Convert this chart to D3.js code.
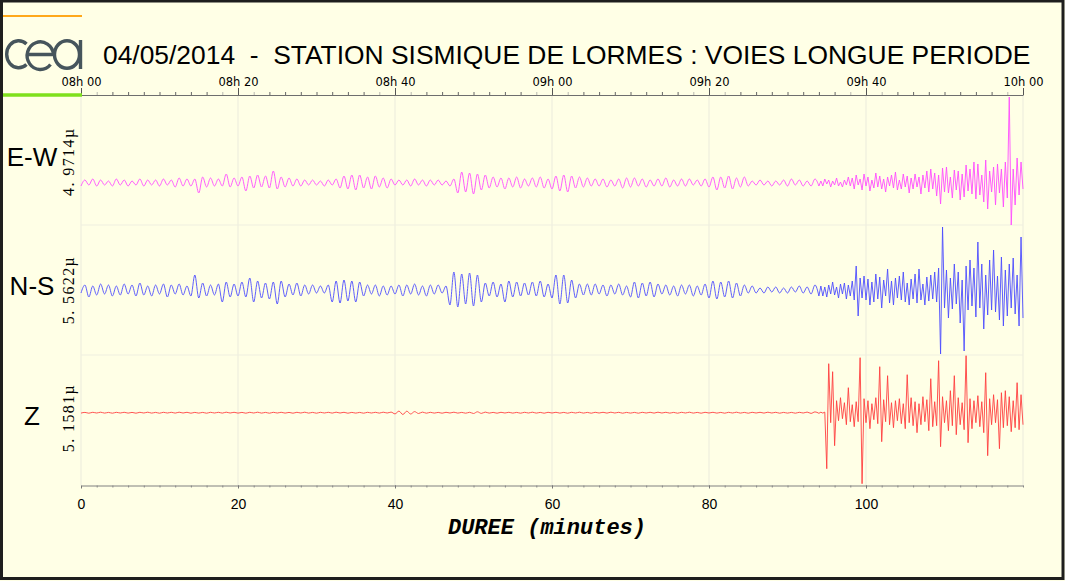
<!DOCTYPE html>
<html><head><meta charset="utf-8">
<script src="https://cdn.jsdelivr.net/npm/d3@7"></script>
<style>body{margin:0;background:#ffffe6;overflow:hidden}</style>
</head><body>
<svg id="chart" width="1065" height="581"></svg>
<script>
// ---------- DATA ----------
const titleText = "04/05/2014  -  STATION SISMIQUE DE LORMES : VOIES LONGUE PERIODE";
const channels = ["E-W", "N-S", "Z"];
const ampLabels = ["4. 9714\u00b5", "5. 5622\u00b5", "5. 1581\u00b5"];
const topTickLabels = ["08h 00", "08h 20", "08h 40", "09h 00", "09h 20", "09h 40", "10h 00"];
const topTickMinutes = [0, 20, 40, 60, 80, 100, 120];
const bottomTickMinutes = [0, 20, 40, 60, 80, 100];
const xLabel = "DUREE (minutes)";
const durationMin = 120;
const quietStep = 0.5;   // minutes between samples, 0..94 min
const tailStart = 94;
const tailStep = 0.25;   // minutes between samples, 94..120 min

// E-W trace (amplitude, arbitrary display units)
const ewQuiet = [
 -3,3,-2,4,-3,3,-2,2,-3,4, -2,3,-3,2,-2,4,-3,3,-2,3,
 -3,4,-2,3,-4,5,-3,4,-3,4, -10,6,-4,5,-3,4,-3,9,-4,5,
 -3,6,-8,7,-5,8,-4,7,-5,12, -6,6,-4,5,-3,4,-3,3,-2,3,
 -2,2,-3,3,-2,4,-5,7,-6,8, -7,8,-5,6,-6,7,-4,5,-5,4,
 -2,3,-2,3,-3,4,-2,3,-3,3, -2,3,-2,2,-3,4,-10,11,-9,10,
 -11,9,-7,8,-5,6,-4,5,-6,5, -4,6,-5,4,-3,5,-4,6,-5,4,
 -6,7,-8,8,-9,7,-5,6,-4,5, -3,4,-3,4,-4,3,-3,4,-5,5,
 -4,5,-3,4,-4,3,-3,4,-3,5, -4,3,-3,4,-3,4,-2,3,-3,4,
 -4,6,-7,6,-5,7,-6,5,-4,6, -3,2,-2,3,-2,2,-3,2,-2,3,
 -3,4,-2,3,-3,2,-3,4,-3
];
const ewTail = [
 2,-3,4,-1,3,-4,2,-2,5,-3,1,-4,3,-2,6,-3,
 5,-6,8,-2,4,-7,9,-3,6,-8,3,-5,10,-4,7,-6,
 4,-9,6,-3,8,-5,11,-7,3,-6,9,-4,7,-10,5,-6,
 9,-4,6,-11,8,-5,12,-9,14,-6,10,-13,
 8,-21,15,-9,
 16,-10,6,-15,13,-7,12,-17,9,-14,18,-8,14,-11,21,-16,
 19,-12,8,-19,23,-26,12,-9,
 16,-22,19,-10,14,-24,21,-15,86,-42,
 14,-22,25,-12,21,-6
];

// N-S trace
const nsQuiet = [
 -3,5,-7,4,-5,6,-4,5,-6,4, -5,6,-4,5,-6,7,-5,4,-6,5,
 -4,6,-7,5,-4,6,-5,4,-6,15, -8,7,-6,5,-5,6,-12,8,-7,6,
 -6,8,-7,12,-12,9,-8,7,-9,8, -14,9,-7,6,-5,7,-6,5,-4,5,
 -3,4,-3,5,-12,9,-13,10,-11,9, -12,8,-6,5,-4,5,-6,4,-5,4,
 -4,5,-6,5,-4,6,-5,4,-6,5, -4,5,-3,4,-15,18,-17,16,-14,17,
 -16,15,-12,7,-6,8,-7,6,-12,9, -7,8,-6,7,-5,8,-6,9,-7,6,
 -8,15,-14,15,-13,10,-8,6,-5,6, -5,6,-4,5,-6,5,-4,6,-5,4,
 -7,8,-8,7,-6,8,-7,6,-4,5, -5,4,-6,5,-4,5,-6,4,-5,6,
 -8,9,-9,8,-7,9,-8,7,-6,5, -3,4,-3,2,-3,3,-2,3,-3,2,
 -3,3,-2,4,-3,3,-4,5,-6
];
const nsTail = [
 4,-6,3,-7,5,-4,8,-5,3,-8,6,-4,7,-9,5,-6,
 9,-10,24,-26,12,-8,14,-10,
 11,-15,8,-12,16,-9,13,-18,10,-6,21,-13,9,-15,12,-8,
 14,-10,18,-12,7,-15,11,-9,16,-13,21,-10,6,-15,13,-11,
 15,-9,18,-12,22,-64,63,-18,
 20,-28,12,-19,26,-14,18,-33,10,-61,24,-20,30,-16,22,-27,
 48,-18,26,-39,15,-25,30,-20,
 40,-22,14,-30,33,-36,20,-26,
 26,-18,32,-24,15,-36,53,-28
];

// Z trace
const zQuiet = [
 -0.4,0.3,-0.5,0.4,-0.3,0.5,-0.4,0.3,-0.5,0.4, -0.3,0.4,-0.4,0.3,-0.5,0.4,-0.3,0.5,-0.4,0.3,
 -0.5,0.4,-0.3,0.4,-0.4,0.5,-0.3,0.4,-0.5,0.3, -0.4,0.3,-0.5,0.4,-0.3,0.4,-0.4,0.5,-0.3,0.4,
 -0.4,0.3,-0.5,0.4,-0.3,0.5,-0.4,0.3,-0.5,0.4, -0.3,0.4,-0.4,0.3,-0.5,0.4,-0.3,0.5,-0.4,0.3,
 -0.5,0.4,-0.3,0.4,-0.4,0.5,-0.3,0.4,-0.5,0.3, -0.4,0.3,-0.5,0.4,-0.3,0.4,-0.4,0.5,-0.3,0.6,
 -1.2,1.6,-1.8,1.5,-1.3,1.1,-0.8,0.6,-0.5,0.4, -0.4,0.3,-0.5,0.4,-0.3,0.5,-0.4,0.3,-0.5,0.4,
 -0.8,0.9,-0.7,0.6,-0.4,0.3,-0.5,0.4,-0.3,0.4, -0.4,0.3,-0.5,0.4,-0.3,0.5,-0.4,0.3,-0.5,0.4,
 -0.3,0.4,-0.4,0.3,-0.5,0.4,-0.3,0.5,-0.4,0.3, -0.5,0.4,-0.3,0.4,-0.4,0.5,-0.3,0.4,-0.5,0.3,
 -0.4,0.3,-0.5,0.4,-0.3,0.4,-0.4,0.5,-0.3,0.4, -0.4,0.3,-0.5,0.4,-0.3,0.5,-0.4,0.3,-0.5,0.4,
 -0.3,0.4,-0.4,0.3,-0.5,0.4,-0.3,0.5,-0.4,0.3, -0.5,0.4,-0.3,0.4,-0.4,0.5,-0.3,0.4,-0.5,0.3,
 -0.4,0.3,-0.5,0.4,-0.3,0.6,-0.7,0.8,-0.6
];
const zTail = [
 0.5,-0.4,0.6,-56,49,-10,41,-33,12,-8,15,-6,10,-12,25,-9,
 8,-14,11,-9,55,-71,14,-10,
 12,-16,9,-7,15,-11,46,-29,13,-9,37,-12,10,-15,12,-8,
 14,-11,9,-16,38,-10,15,-13,11,-20,9,-12,16,-9,13,-18,
 34,-14,11,-13,52,-34,16,-10,
 12,-18,22,-13,37,-22,15,-12,10,-17,57,-30,14,-16,12,-10,
 17,-14,11,-20,40,-43,14,-12,
 18,-10,13,-36,20,-15,22,-13,
 16,-19,12,-15,30,-17,18,-12
];

// ---------- LAYOUT ----------
const svg = d3.select("#chart");
const plotL = 81, plotR = 1023, plotT = 95, plotB = 485.5;
const x = d3.scaleLinear().domain([0, durationMin]).range([plotL, plotR]);

svg.append("rect").attr("width", 1065).attr("height", 581).attr("fill", "#ffffe6");

const panelCfg = [
  {quiet: ewQuiet, tail: ewTail, color: "#ff4dff", top: 95,  bottom: 225,   base: 183,   labelY: 161.7, nameY: 166},
  {quiet: nsQuiet, tail: nsTail, color: "#4d4dff", top: 225, bottom: 355,   base: 290,   labelY: 290,   nameY: 295},
  {quiet: zQuiet,  tail: zTail,  color: "#ff4040", top: 355, bottom: 485.5, base: 412.7, labelY: 418,   nameY: 425}
];

// grid
const grid = svg.append("g");
topTickMinutes.forEach(m => {
  grid.append("line").attr("x1", x(m)).attr("x2", x(m)).attr("y1", plotT).attr("y2", plotB)
    .attr("stroke", "#ebebdc").attr("stroke-width", 1);
});
[225, 355].forEach(yy => {
  grid.append("line").attr("x1", plotL).attr("x2", plotR).attr("y1", yy).attr("y2", yy)
    .attr("stroke", "#efefe0").attr("stroke-width", 1);
});

// traces
panelCfg.forEach((p, k) => {
  const y = d3.scaleLinear().domain([-(p.bottom - p.base), p.base - p.top]).range([p.bottom, p.top]);
  const quietPts = p.quiet.map((v, i) => ({t: i * quietStep, v}));
  const tailPts = [quietPts[quietPts.length - 1]]
    .concat(p.tail.map((v, j) => ({t: tailStart + (j + 1) * tailStep, v})));
  const smooth = d3.line().x(d => x(d.t)).y(d => y(d.v)).curve(d3.curveMonotoneX);
  const jagged = d3.line().x(d => x(d.t)).y(d => y(d.v)).curve(d3.curveLinear);
  svg.append("path").datum(quietPts).attr("d", smooth).attr("fill", "none")
    .attr("stroke", p.color).attr("stroke-width", 0.9).attr("stroke-linejoin", "round");
  svg.append("path").datum(tailPts).attr("d", jagged).attr("fill", "none")
    .attr("stroke", p.color).attr("stroke-width", 0.9).attr("stroke-linejoin", "round");

  svg.append("text").attr("x", 32).attr("y", p.nameY).attr("text-anchor", "middle")
    .attr("font-family", "Liberation Sans, Arial, sans-serif").attr("font-size", 26)
    .attr("fill", "#000").text(channels[k]);

  svg.append("text").attr("transform", `translate(73.5,${p.labelY}) rotate(-90)`)
    .attr("text-anchor", "middle").attr("font-family", "Liberation Serif, Times New Roman, serif")
    .attr("font-size", 16).attr("letter-spacing", "1.4px").attr("fill", "#000").text(ampLabels[k]);
});

// top axis
const minorTicks = d3.range(2, durationMin, 2).filter(d => d % 20 !== 0);
const isGrayTick = d => (d % 20 === 2 || d % 20 === 18);
const gTopMinor = svg.append("g").attr("transform", `translate(0,${plotT})`)
  .call(d3.axisTop(x).tickValues(minorTicks).tickSize(3).tickSizeOuter(0).tickFormat(""));
gTopMinor.select(".domain").attr("stroke", "#6e6e6e");
gTopMinor.selectAll(".tick line").attr("stroke", d => isGrayTick(d) ? "#b8b8b0" : "#666");
const gTop = svg.append("g").attr("transform", `translate(0,${plotT})`)
  .call(d3.axisTop(x).tickValues(topTickMinutes).tickSize(7).tickSizeOuter(0).tickPadding(2.5)
    .tickFormat((d, i) => topTickLabels[i]));
gTop.select(".domain").remove();
gTop.selectAll(".tick line").attr("stroke", "#555");
gTop.selectAll(".tick text").attr("font-family", "DejaVu Sans, sans-serif").attr("font-size", 11.5).attr("fill", "#000");

// bottom axis
const gBotMinor = svg.append("g").attr("transform", `translate(0,${plotB})`)
  .call(d3.axisBottom(x).tickValues(d3.range(2, durationMin + 1, 2)).tickSize(2).tickSizeOuter(0).tickFormat(""));
gBotMinor.select(".domain").attr("stroke", "#808080");
gBotMinor.selectAll(".tick line").attr("stroke", "#888");
const gBot = svg.append("g").attr("transform", `translate(0,${plotB})`)
  .call(d3.axisBottom(x).tickValues(bottomTickMinutes).tickSize(3).tickSizeOuter(0).tickPadding(10.5));
gBot.select(".domain").remove();
gBot.selectAll(".tick line").attr("stroke", "#777");
gBot.selectAll(".tick text").attr("font-family", "Liberation Sans, Arial, sans-serif").attr("font-size", 14).attr("fill", "#000");

svg.append("text").attr("x", 547).attr("y", 534).attr("text-anchor", "middle")
  .attr("font-family", "Liberation Mono, Courier New, monospace").attr("font-weight", "bold")
  .attr("font-style", "italic").attr("font-size", 22).attr("fill", "#000").text(xLabel);

// title
svg.append("text").attr("x", 103).attr("y", 64).attr("font-family", "Liberation Sans, Arial, sans-serif")
  .attr("font-size", 26.4).attr("fill", "#000").style("white-space", "pre").text(titleText);

// logo decorations
svg.append("line").attr("x1", 3).attr("x2", 82).attr("y1", 16).attr("y2", 16)
  .attr("stroke", "#ffa81a").attr("stroke-width", 2);
svg.append("line").attr("x1", 3).attr("x2", 82).attr("y1", 95).attr("y2", 95)
  .attr("stroke", "#7fe01c").attr("stroke-width", 3.5);
const logo = svg.append("g").attr("fill", "none").attr("stroke", "#46555c").attr("stroke-width", 3.4);
// c
logo.append("path").attr("d", "M26.5,44 A12,13.5 0 1 0 26.5,64.5");
// e
logo.append("path").attr("d", "M27,54.5 L53.5,54.5 A13.2,13.8 0 1 0 50.5,64.5");
// a
logo.append("ellipse").attr("cx", 67).attr("cy", 54.5).attr("rx", 12.5).attr("ry", 13.8);
logo.append("line").attr("x1", 80.5).attr("x2", 80.5).attr("y1", 40).attr("y2", 69);

// frame
svg.append("rect").attr("x", 1.5).attr("y", 1).attr("width", 1061.5).attr("height", 577.5)
  .attr("fill", "none").attr("stroke", "#1e1e1e").attr("stroke-width", 3);
</script>
</body></html>
